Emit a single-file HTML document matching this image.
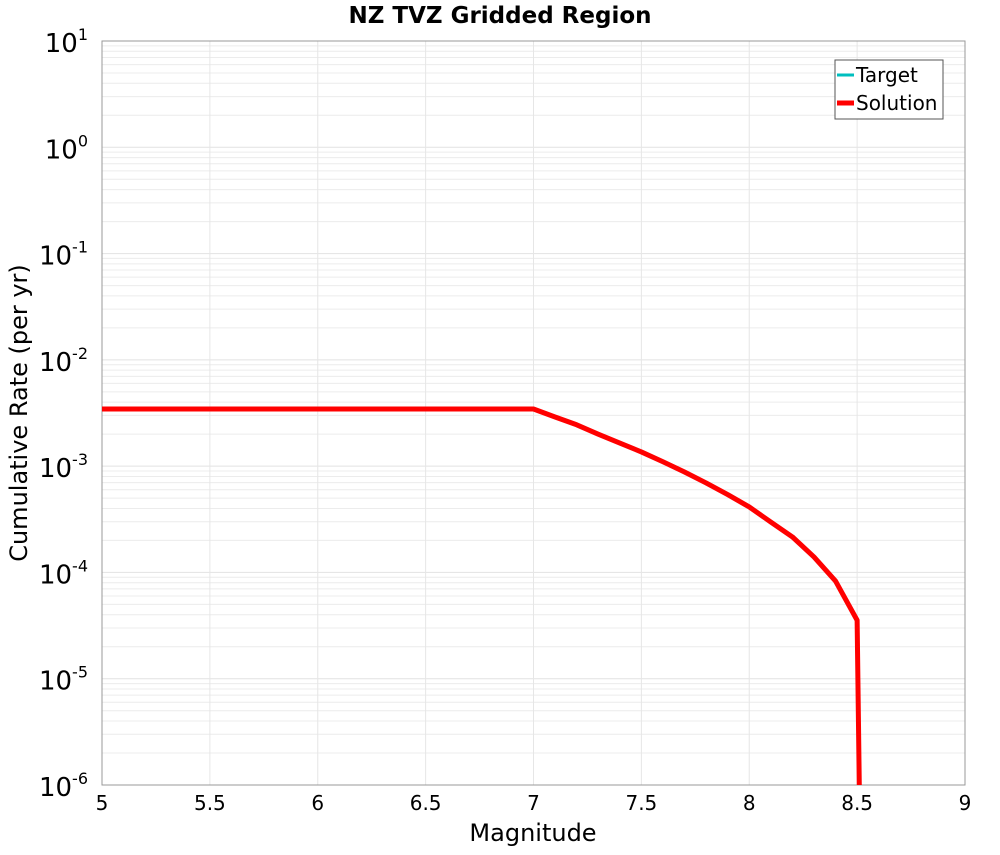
<!DOCTYPE html>
<html><head><meta charset="utf-8"><style>body{margin:0;background:#fff}svg{font-family:"DejaVu Sans","Liberation Sans",sans-serif}</style></head>
<body>
<svg id="c" width="1000" height="850"></svg>
<script>
const xTicks=[5,5.5,6,6.5,7,7.5,8,8.5,9];
const xTickLabels=["5","5.5","6","6.5","7","7.5","8","8.5","9"];
const yExps=[1,0,-1,-2,-3,-4,-5,-6];
const solMag=[5.0,7.0,7.1,7.2,7.3,7.4,7.5,7.6,7.7,7.8,7.9,8.0,8.1,8.2,8.3,8.4,8.5,8.51];
const solRate=[3.45e-3,3.45e-3,2.9e-3,2.45e-3,2.0e-3,1.65e-3,1.36e-3,1.1e-3,8.8e-4,6.95e-4,5.4e-4,4.13e-4,2.98e-4,2.16e-4,1.4e-4,8.3e-5,3.55e-5,1e-6];
const tgtMag=solMag.slice();
const tgtRate=solRate.slice();
const L=102,R=965,T=41,B=785;
const X=v=>L+(v-5)/4*(R-L);
const Y=v=>T+(1-Math.log10(v))/7*(B-T);
const s=document.getElementById('c');const NS='http://www.w3.org/2000/svg';
function el(t,a,p){const e=document.createElementNS(NS,t);for(const k in a)e.setAttribute(k,a[k]);(p||s).appendChild(e);return e;}
const g=el('g',{});


for(let e=-6;e<1;e++)for(let m=1;m<10;m++){const y=Y(m*Math.pow(10,e));el('line',{x1:L,x2:R,y1:y,y2:y,stroke:m==1?'#e2e2e2':'#ececec','stroke-width':1},g);}
xTicks.forEach(v=>el('line',{x1:X(v),x2:X(v),y1:T,y2:B,stroke:'#e6e6e6','stroke-width':1},g));
const fr=el('rect',{x:L,y:T,width:R-L,height:B-T,fill:'none',stroke:'#999','stroke-width':1});


xTicks.forEach((v,i)=>{const t=el('text',{x:X(v),y:810,'font-size':20,'text-anchor':'middle',fill:'#000'});t.textContent=xTickLabels[i];

});
yExps.forEach(e=>{const y=Y(Math.pow(10,e));const t=el('text',{x:88,y:y+11,'font-size':26,'text-anchor':'end',fill:'#000'});


const a=el('tspan',{},t);a.textContent='10';const b=el('tspan',{dy:-12,'font-size':16},t);b.textContent=String(e);});
function line(mx,rt,col,w,name){const p=el('polyline',{points:mx.map((m,i)=>X(m)+','+Y(rt[i])).join(' '),fill:'none',stroke:col,'stroke-width':w,'stroke-linejoin':'round'});

}
line(tgtMag,tgtRate,'#00bfbf',3,'target-line');
line(solMag,solRate,'#ff0000',5,'solution-line');
let t=el('text',{x:500,y:23,'font-size':23,'font-weight':'bold','text-anchor':'middle'});t.textContent='NZ TVZ Gridded Region';


t=el('text',{x:533,y:841,'font-size':24,'text-anchor':'middle'});t.textContent='Magnitude';


t=el('text',{x:0,y:0,'font-size':24,'text-anchor':'middle',transform:'translate(27,413) rotate(-90)'});t.textContent='Cumulative Rate (per yr)';


const lg=el('g',{});


el('rect',{x:835,y:60,width:108,height:59,fill:'#fff',stroke:'#555','stroke-width':1},lg);
el('line',{x1:837,x2:854,y1:75,y2:75,stroke:'#00bfbf','stroke-width':3},lg);
el('line',{x1:837,x2:854,y1:103,y2:103,stroke:'#ff0000','stroke-width':5},lg);
t=el('text',{x:856,y:82,'font-size':20},lg);t.textContent='Target';


t=el('text',{x:856,y:110,'font-size':20},lg);t.textContent='Solution';


</script>
</body></html>
